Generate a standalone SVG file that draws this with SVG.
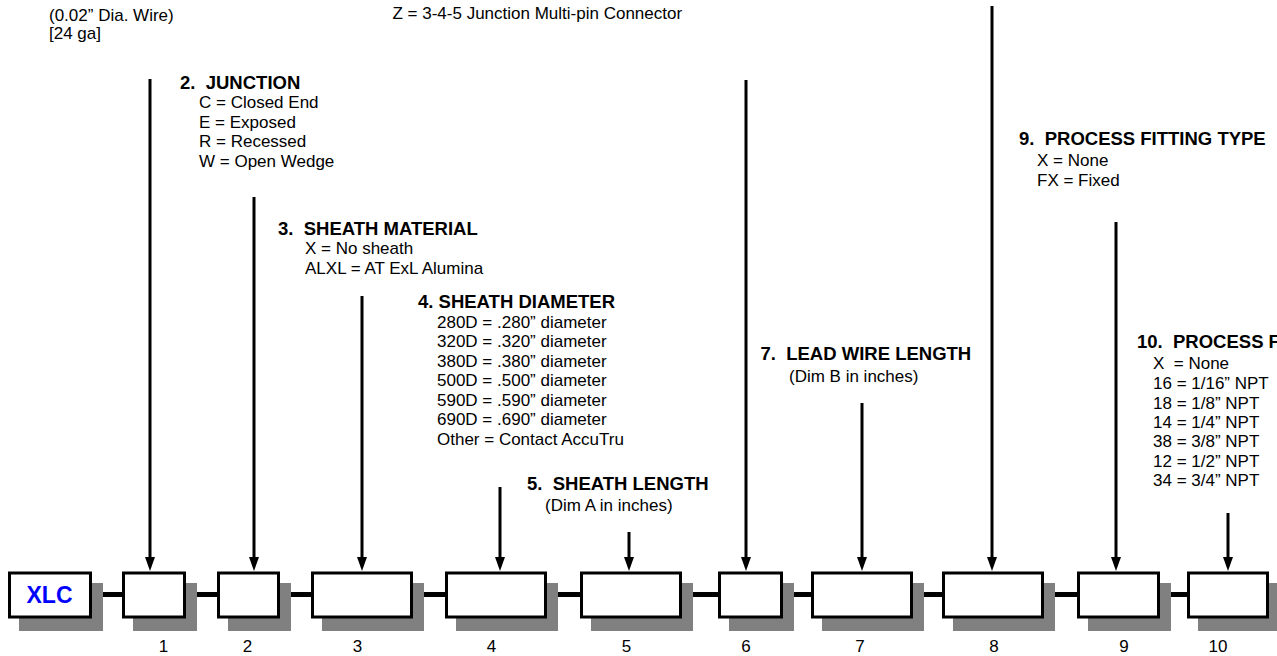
<svg xmlns="http://www.w3.org/2000/svg" width="1277" height="656" viewBox="0 0 1277 656">
<style>
text{font-family:"Liberation Sans",Arial,sans-serif;font-size:17px;fill:#000;white-space:pre}
.h{font-weight:bold;font-size:18.5px}
.box{fill:#fff;stroke:#000;stroke-width:3}
.sh{fill:#808080}
.bar{stroke:#000;stroke-width:5}
.arr{stroke:#000;stroke-width:3;marker-end:url(#ah)}
.num{text-anchor:middle}
</style>
<defs>
<marker id="ah" markerUnits="userSpaceOnUse" markerWidth="14" markerHeight="10" refX="4" refY="5" orient="auto" viewBox="0 0 14 10">
<path d="M0,0 L14,5 L0,10 Z" fill="#000"/>
</marker>
</defs>
<g id="labels">
<text x="49" y="21">(0.02” Dia. Wire)</text>
<text x="49" y="38.5">[24 ga]</text>
<text x="392.5" y="19">Z = 3-4-5 Junction Multi-pin Connector</text>
</g>
<g id="field2">
<text class="h" x="180" y="89">2.  JUNCTION</text>
<text x="199" y="108">C = Closed End</text>
<text x="199" y="127.5">E = Exposed</text>
<text x="199" y="147">R = Recessed</text>
<text x="199" y="166.5">W = Open Wedge</text>
</g>
<g id="field3">
<text class="h" x="278" y="235">3.  SHEATH MATERIAL</text>
<text x="305" y="254">X = No sheath</text>
<text x="305" y="274">ALXL = AT ExL Alumina</text>
</g>
<g id="field4">
<text class="h" x="418" y="307.5">4. SHEATH DIAMETER</text>
<text x="437" y="327.5">280D = .280” diameter</text>
<text x="437" y="347">320D = .320” diameter</text>
<text x="437" y="366.5">380D = .380” diameter</text>
<text x="437" y="386">500D = .500” diameter</text>
<text x="437" y="405.5">590D = .590” diameter</text>
<text x="437" y="425">690D = .690” diameter</text>
<text x="437" y="444.5">Other = Contact AccuTru</text>
</g>
<g id="field5">
<text class="h" x="527" y="490">5.  SHEATH LENGTH</text>
<text x="545" y="511">(Dim A in inches)</text>
</g>
<g id="field7">
<text class="h" x="760.5" y="360">7.  LEAD WIRE LENGTH</text>
<text x="789" y="382">(Dim B in inches)</text>
</g>
<g id="field9">
<text class="h" x="1019" y="145">9.  PROCESS FITTING TYPE</text>
<text x="1037" y="166">X = None</text>
<text x="1037" y="186">FX = Fixed</text>
</g>
<g id="field10">
<text class="h" x="1137" y="347.5">10.  PROCESS F</text>
<text x="1153" y="369">X  = None</text>
<text x="1153" y="389">16 = 1/16” NPT</text>
<text x="1153" y="408.5">18 = 1/8” NPT</text>
<text x="1153" y="428">14 = 1/4” NPT</text>
<text x="1153" y="447">38 = 3/8” NPT</text>
<text x="1153" y="466.5">12 = 1/2” NPT</text>
<text x="1153" y="486">34 = 3/4” NPT</text>
</g>
<g id="connectors">
<line class="arr" x1="150" y1="79" x2="150" y2="561"/>
<line class="arr" x1="254" y1="197" x2="254" y2="561"/>
<line class="arr" x1="362" y1="296" x2="362" y2="561"/>
<line class="arr" x1="500" y1="487" x2="500" y2="561"/>
<line class="arr" x1="629" y1="532" x2="629" y2="561"/>
<line class="arr" x1="746" y1="80" x2="746" y2="561"/>
<line class="arr" x1="862" y1="403" x2="862" y2="561"/>
<line class="arr" x1="992" y1="6" x2="992" y2="561"/>
<line class="arr" x1="1116" y1="222" x2="1116" y2="561"/>
<line class="arr" x1="1228" y1="513" x2="1228" y2="561"/>
<line class="bar" x1="92" y1="594.5" x2="122" y2="594.5"/>
<line class="bar" x1="186" y1="594.5" x2="217" y2="594.5"/>
<line class="bar" x1="280" y1="594.5" x2="311" y2="594.5"/>
<line class="bar" x1="413" y1="594.5" x2="445" y2="594.5"/>
<line class="bar" x1="547" y1="594.5" x2="580" y2="594.5"/>
<line class="bar" x1="682" y1="594.5" x2="718" y2="594.5"/>
<line class="bar" x1="783" y1="594.5" x2="811" y2="594.5"/>
<line class="bar" x1="913" y1="594.5" x2="942" y2="594.5"/>
<line class="bar" x1="1044" y1="594.5" x2="1077" y2="594.5"/>
<line class="bar" x1="1160" y1="594.5" x2="1187" y2="594.5"/>
</g>
<g id="node-xlc"><rect class="sh" x="19" y="583" width="84" height="48"/><rect class="box" x="9.5" y="573" width="81" height="44"/><text x="49.5" y="603" text-anchor="middle" style="font-weight:bold;font-size:23px;fill:#0000ff">XLC</text></g>
<g id="node-1"><rect class="sh" x="133" y="583" width="64" height="48"/><rect class="box" x="123.5" y="573" width="61" height="44"/><text class="num" x="163.5" y="652">1</text></g>
<g id="node-2"><rect class="sh" x="228" y="583" width="63" height="48"/><rect class="box" x="218.5" y="573" width="60" height="44"/><text class="num" x="247.5" y="652">2</text></g>
<g id="node-3"><rect class="sh" x="322" y="583" width="102" height="48"/><rect class="box" x="312.5" y="573" width="99" height="44"/><text class="num" x="357.5" y="652">3</text></g>
<g id="node-4"><rect class="sh" x="456" y="583" width="102" height="48"/><rect class="box" x="446.5" y="573" width="99" height="44"/><text class="num" x="491.5" y="652">4</text></g>
<g id="node-5"><rect class="sh" x="591" y="583" width="102" height="48"/><rect class="box" x="581.5" y="573" width="99" height="44"/><text class="num" x="626.5" y="652">5</text></g>
<g id="node-6"><rect class="sh" x="729" y="583" width="65" height="48"/><rect class="box" x="719.5" y="573" width="62" height="44"/><text class="num" x="746" y="652">6</text></g>
<g id="node-7"><rect class="sh" x="822" y="583" width="102" height="48"/><rect class="box" x="812.5" y="573" width="99" height="44"/><text class="num" x="860" y="652">7</text></g>
<g id="node-8"><rect class="sh" x="953" y="583" width="102" height="48"/><rect class="box" x="943.5" y="573" width="99" height="44"/><text class="num" x="994" y="652">8</text></g>
<g id="node-9"><rect class="sh" x="1088" y="583" width="83" height="48"/><rect class="box" x="1078.5" y="573" width="80" height="44"/><text class="num" x="1124" y="652">9</text></g>
<g id="node-10"><rect class="sh" x="1198" y="583" width="82" height="48"/><rect class="box" x="1188.5" y="573" width="79" height="44"/><text class="num" x="1218" y="652">10</text></g>
</svg>
